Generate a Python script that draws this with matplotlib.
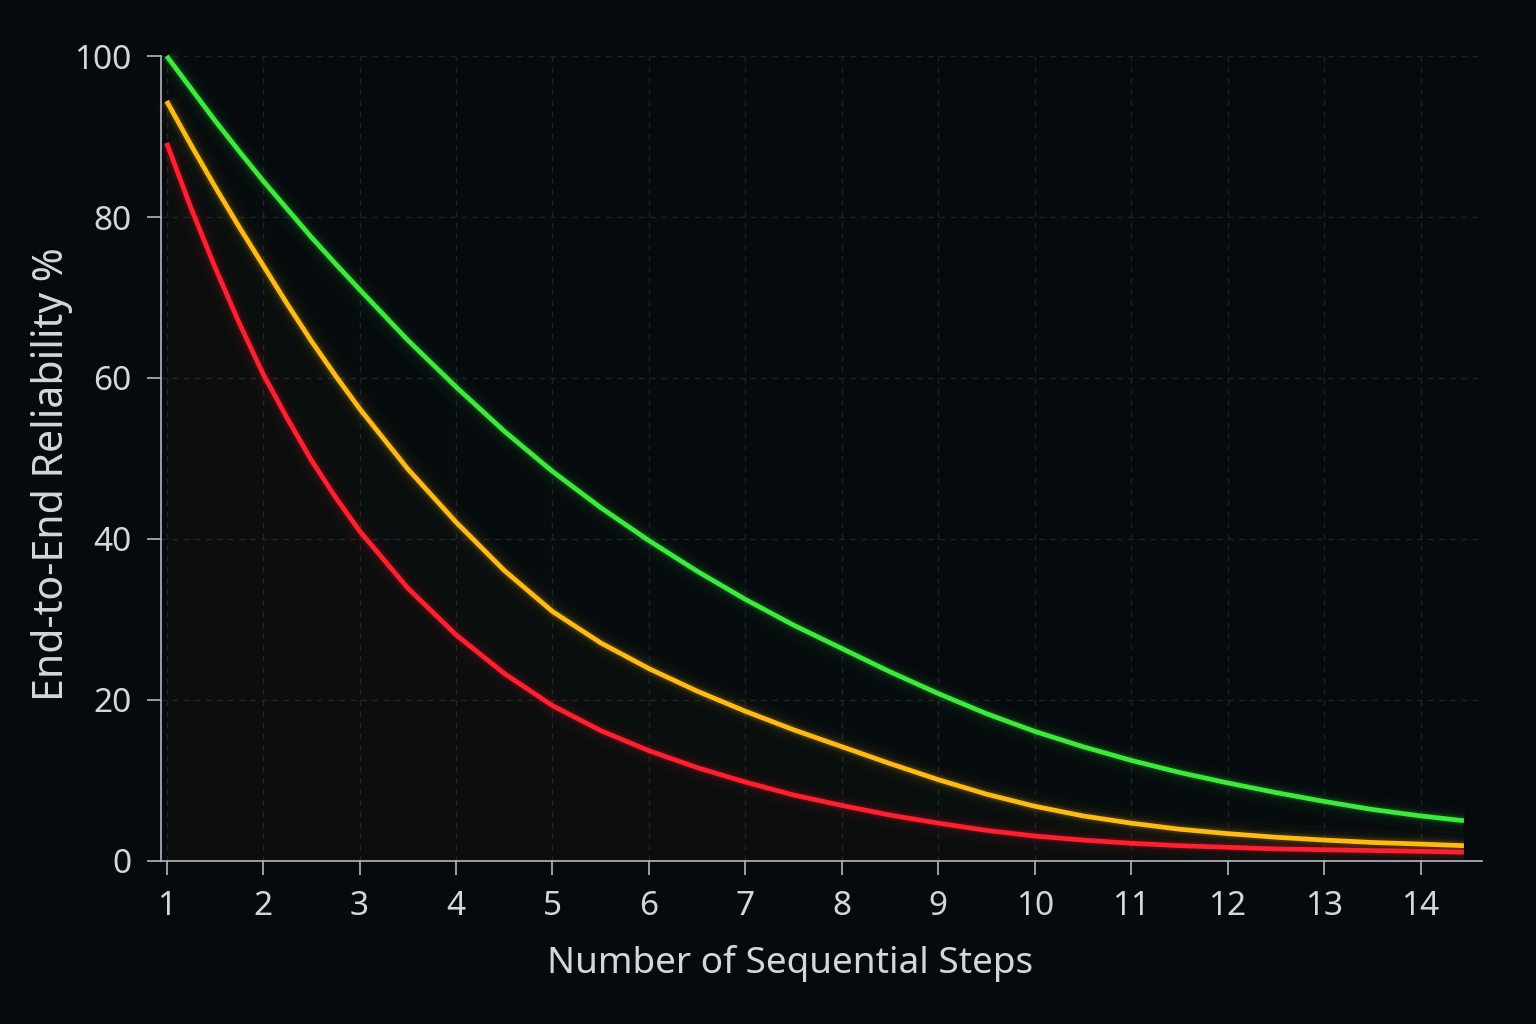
import numpy as np
import matplotlib
matplotlib.use("Agg")
import matplotlib.pyplot as plt

# ---- data ----
steps = [1, 1.25, 1.5, 1.75, 2, 2.25, 2.5, 2.75, 3, 3.5, 4, 4.5, 5, 5.5, 6, 6.5, 7, 7.5, 8,
         8.5, 9, 9.5, 10, 10.5, 11, 11.5, 12, 12.5, 13, 13.5, 14, 14.45]
green = [100, 96.0, 92.0, 88.2, 84.5, 81.0, 77.5, 74.2, 71.0, 64.7, 58.9, 53.4, 48.4, 43.9,
         39.8, 36.0, 32.5, 29.3, 26.4, 23.5, 20.8, 18.3, 16.1, 14.2, 12.5, 11.0, 9.7, 8.5,
         7.4, 6.4, 5.6, 5.0]
yellow = [94.4, 89.0, 83.8, 78.8, 74.0, 69.2, 64.6, 60.3, 56.2, 48.7, 42.1, 36.1, 31.0, 27.1,
          23.9, 21.1, 18.6, 16.3, 14.2, 12.1, 10.1, 8.3, 6.8, 5.6, 4.7, 3.95, 3.4, 2.95,
          2.6, 2.3, 2.1, 1.9]
red = [89.2, 81.2, 73.8, 66.9, 60.5, 55.0, 49.8, 45.2, 41.0, 33.9, 28.1, 23.3, 19.3, 16.2,
       13.7, 11.6, 9.8, 8.2, 6.9, 5.7, 4.7, 3.8, 3.1, 2.6, 2.2, 1.9, 1.7, 1.5, 1.4, 1.3,
       1.2, 1.1]
xticks = list(range(1, 15))
yticks = [0, 20, 40, 60, 80, 100]
xlabel = "Number of Sequential Steps"
ylabel = "End-to-End Reliability %"

BG = "#06090e"
TXT = "#d3d6db"
SPINE = "#b4b8be"
colors = {"green": "#3bea3b", "yellow": "#ffbb12", "red": "#ff1f2e"}

plt.rcParams["font.family"] = ["Noto Sans", "DejaVu Sans"]

fig = plt.figure(figsize=(15.36, 10.24), dpi=100, facecolor=BG)
ax = fig.add_axes([0.1046, 0.1592, 0.8604, 0.7861], facecolor=BG)

ax.set_xlim(0.938, 14.64)
ax.set_ylim(0, 100)

x = np.array(steps)
for name, vals in (("green", green), ("yellow", yellow), ("red", red)):
    c = colors[name]
    v = np.array(vals)
    ax.fill_between(x, 0, v, color=c, alpha=0.015, lw=0, zorder=1)
    for lw, a in ((20, 0.018), (13, 0.03), (8.5, 0.06), (6, 0.11)):
        ax.plot(x, v, color=c, lw=lw, alpha=a, solid_capstyle="butt",
                solid_joinstyle="round", zorder=2, clip_on=False)
    ax.plot(x, v, color=c, lw=3.4, solid_capstyle="butt", solid_joinstyle="round",
            zorder=3, clip_on=False)

ax.grid(True, color="#1d2229", lw=1.0, ls=(0, (4, 4)), zorder=0)
ax.set_axisbelow(True)

for s in ("top", "right"):
    ax.spines[s].set_visible(False)
for s in ("left", "bottom"):
    ax.spines[s].set_color(SPINE)
    ax.spines[s].set_linewidth(1.2)

ax.set_xticks(xticks)
ax.set_yticks(yticks)
ax.tick_params(axis="both", colors=SPINE, labelcolor=TXT, labelsize=24,
               length=10, width=1.2, pad=11)

fig.text(0.5143, 0.059, xlabel, color=TXT, fontsize=26.6, ha="center", va="center")
fig.text(0.034, 0.537, ylabel, color=TXT, fontsize=29.5, ha="center", va="center", rotation=90)

fig.savefig("out.png", dpi=100, facecolor=BG)
